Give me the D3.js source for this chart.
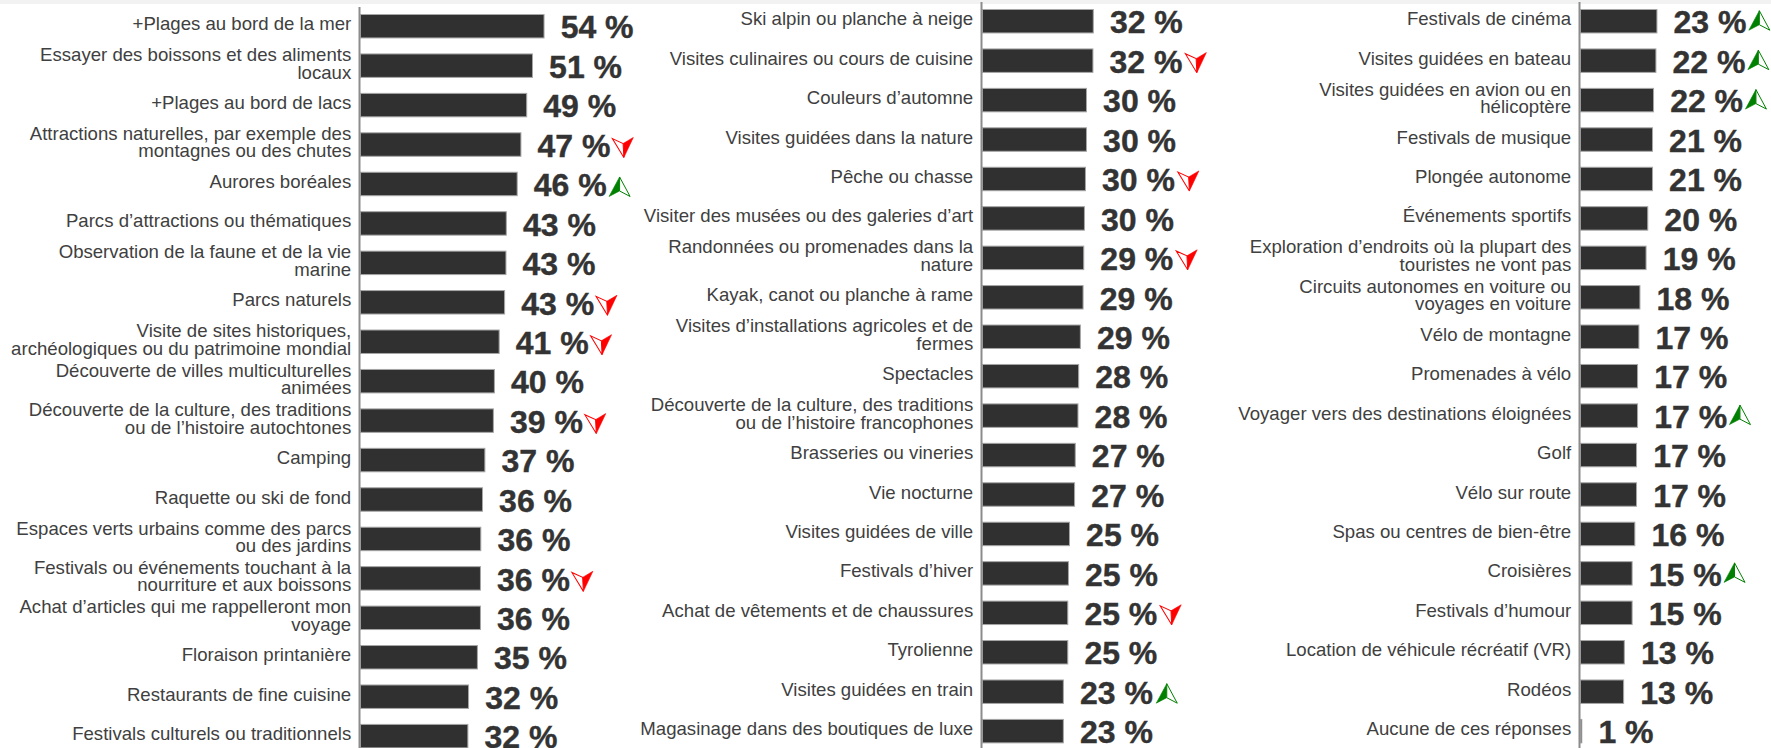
<!DOCTYPE html>
<html>
<head>
<meta charset="utf-8">
<style>
 html, body { margin: 0; padding: 0; background: #fff; overflow: hidden; }
 svg { display: block; font-family: "Liberation Sans", Arial, sans-serif; }
 .cat { font-size: 18.6px; fill: #404040; }
 .pct { font-size: 32px; font-weight: bold; fill: #333; stroke: #333; stroke-width: 0.4px; }
 .axis path { stroke: #8c8c8c; stroke-width: 2px; fill: none; }
</style>
</head>
<body>
<svg width="1771" height="748"></svg>
<script src="https://d3js.org/d3.v7.min.js"></script>
<script>
var categories1 = ["+Plages au bord de la mer", "Essayer des boissons et des aliments locaux", "+Plages au bord de lacs",
  "Attractions naturelles, par exemple des montagnes ou des chutes", "Aurores boréales", "Parcs d’attractions ou thématiques",
  "Observation de la faune et de la vie marine", "Parcs naturels", "Visite de sites historiques, archéologiques ou du patrimoine mondial",
  "Découverte de villes multiculturelles animées", "Découverte de la culture, des traditions ou de l’histoire autochtones", "Camping",
  "Raquette ou ski de fond", "Espaces verts urbains comme des parcs ou des jardins", "Festivals ou événements touchant à la nourriture et aux boissons",
  "Achat d’articles qui me rappelleront mon voyage", "Floraison printanière", "Restaurants de fine cuisine", "Festivals culturels ou traditionnels"];
var values1 = [54.1, 50.7, 49, 47.3, 46.2, 43, 42.9, 42.5, 40.9, 39.5, 39.2, 36.7, 36, 35.5, 35.4, 35.4, 34.5, 31.9, 31.7];
var labels1 = [54, 51, 49, 47, 46, 43, 43, 43, 41, 40, 39, 37, 36, 36, 36, 36, 35, 32, 32];
var trends1 = [0, 0, 0, -1, 1, 0, 0, -1, -1, 0, -1, 0, 0, 0, -1, 0, 0, 0, 0];

var categories2 = ["Ski alpin ou planche à neige", "Visites culinaires ou cours de cuisine", "Couleurs d’automne", "Visites guidées dans la nature",
  "Pêche ou chasse", "Visiter des musées ou des galeries d’art", "Randonnées ou promenades dans la nature", "Kayak, canot ou planche à rame",
  "Visites d’installations agricoles et de fermes", "Spectacles", "Découverte de la culture, des traditions ou de l’histoire francophones",
  "Brasseries ou vineries", "Vie nocturne", "Visites guidées de ville", "Festivals d’hiver", "Achat de vêtements et de chaussures", "Tyrolienne",
  "Visites guidées en train", "Magasinage dans des boutiques de luxe"];
var values2 = [32.7, 32.6, 30.7, 30.7, 30.4, 30.1, 29.9, 29.7, 28.9, 28.4, 28.2, 27.4, 27.2, 25.7, 25.4, 25.2, 25.2, 23.9, 23.9];
var labels2 = [32, 32, 30, 30, 30, 30, 29, 29, 29, 28, 28, 27, 27, 25, 25, 25, 25, 23, 23];
var trends2 = [0, -1, 0, 0, -1, 0, -1, 0, 0, 0, 0, 0, 0, 0, 0, -1, 0, 1, 0];

var categories3 = ["Festivals de cinéma", "Visites guidées en bateau", "Visites guidées en avion ou en hélicoptère", "Festivals de musique", "Plongée autonome",
  "Événements sportifs", "Exploration d’endroits où la plupart des touristes ne vont pas", "Circuits autonomes en voiture ou voyages en voiture",
  "Vélo de montagne", "Promenades à vélo", "Voyager vers des destinations éloignées", "Golf", "Vélo sur route", "Spas ou centres de bien-être", "Croisières",
  "Festivals d’humour", "Location de véhicule récréatif (VR)", "Rodéos", "Aucune de ces réponses"];
var values3 = [22.6, 22.3, 21.6, 21.3, 21.3, 19.9, 19.4, 17.6, 17.3, 16.9, 16.9, 16.6, 16.6, 16.1, 15.3, 15.3, 13, 12.8, 0.5];
var labels3 = [23, 22, 22, 21, 21, 20, 19, 18, 17, 17, 17, 17, 17, 16, 15, 15, 13, 13, 1];
var trends3 = [1, 1, 1, 0, 0, 0, 0, 0, 0, 0, 1, 0, 0, 0, 1, 0, 0, 0, 0];

var svg = d3.select("svg");
var rowStep = 39.44, wrapWidth = 343, lineGap = 17.3;

svg.append("rect").attr("width", 1771).attr("height", 4).attr("fill", "#f2f2f2");

// break a label on words when it gets wider than wrapWidth
function wrap(sel) {
  sel.each(function(d) {
    var t = d3.select(this), words = d.split(" "), lines = [], line = [];
    var probe = t.append("tspan");
    words.forEach(function(w) {
      probe.text(line.concat(w).join(" "));
      if (probe.node().getComputedTextLength() > wrapWidth && line.length) {
        lines.push(line.join(" "));
        line = [w];
      } else line.push(w);
    });
    lines.push(line.join(" "));
    probe.remove();
    var first = lines.length == 1 ? 4 : -4.4;
    lines.forEach(function(l, i) {
      t.append("tspan").attr("x", 0).attr("y", first + i * lineGap).text(l);
    });
  });
}

function arrow(sel, dir) {
  // half filled navigation arrow, drawn pointing up around 0,0
  var g = sel.append("g").attr("transform", dir > 0 ? null : "rotate(177)");
  var c = dir > 0 ? "#008000" : "#ff0000";
  g.append("path").attr("d", "M0,-10L-10.5,9.5L0,4Z").attr("fill", c).attr("stroke", c).attr("stroke-width", 0.6);
  g.append("path").attr("d", "M0,-10L10.5,9.5L0,4Z").attr("fill", "#fff").attr("stroke", c).attr("stroke-width", 1);
}

function column(axisX, top, cats, vals, labs, trends, arrowDx, arrowDy) {
  var y = d3.scaleBand().domain(cats).range([top, top + rowStep * cats.length]).paddingInner(0.38).paddingOuter(0.19);
  var x = d3.scaleLinear().domain([0, 100]).range([0, 340]);
  var g = svg.append("g").attr("transform", "translate(" + axisX + ",0)");

  g.selectAll(".bar").data(cats).enter().append("rect")
    .attr("class", "bar")
    .attr("x", 1.5)
    .attr("y", function(d) { return y(d) + 0.5; })
    .attr("width", function(d, i) { return x(vals[i]) - 0.4; })
    .attr("height", y.bandwidth() - 1)
    .attr("fill", "#303030")
    .attr("stroke", "#a6a6a6")
    .attr("stroke-width", 1);

  g.append("g").attr("class", "axis").call(d3.axisLeft(y).tickSize(0).tickFormat(""));

  g.selectAll(".cat").data(cats).enter().append("text")
    .attr("class", "cat")
    .attr("text-anchor", "end")
    .attr("transform", function(d) { return "translate(-7.8," + (y(d) + y.bandwidth() / 2) + ")"; })
    .call(wrap);

  g.selectAll(".pct").data(cats).enter().append("text")
    .attr("class", "pct")
    .attr("x", function(d, i) { return x(vals[i]) + 17.7; })
    .attr("y", function(d) { return y(d) + y.bandwidth(); })
    .text(function(d, i) { return labs[i] + " %"; });

  cats.forEach(function(d, i) {
    if (!trends[i]) return;
    g.append("g")
      .attr("transform", "translate(" + (x(vals[i]) + arrowDx) + "," + (y(d) + y.bandwidth() / 2 + arrowDy) + ")")
      .call(arrow, trends[i]);
  });
}

column(359, 6.5, categories1, values1, labels1, trends1, 103.5, 3);
column(981, 1.5, categories2, values2, labels2, trends2, 104.5, 2);
column(1579, 1.5, categories3, values3, labels3, trends3, 103.5, -0.5);
</script>
</body>
</html>
